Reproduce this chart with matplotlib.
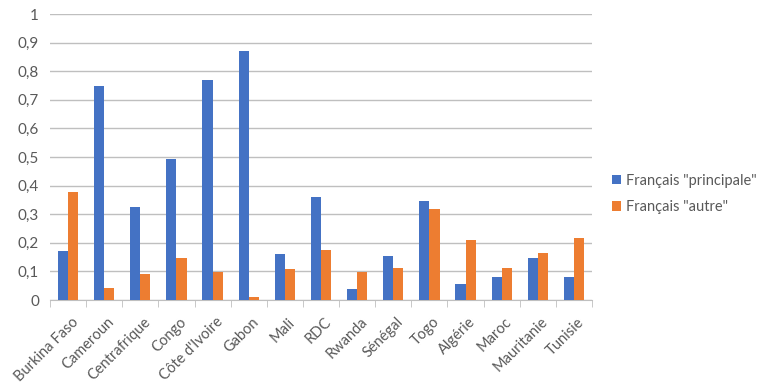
import matplotlib
matplotlib.use("Agg")
import matplotlib.pyplot as plt
import matplotlib.transforms as mtransforms
import numpy as np

categories = ["Burkina Faso", "Cameroun", "Centrafrique", "Congo", "Côte d'Ivoire",
              "Gabon", "Mali", "RDC", "Rwanda", "Sénégal", "Togo", "Algérie",
              "Maroc", "Mauritanie", "Tunisie"]
principale = [0.172, 0.748, 0.326, 0.494, 0.769, 0.870, 0.160, 0.359, 0.037,
              0.154, 0.345, 0.057, 0.080, 0.146, 0.080]
autre = [0.377, 0.043, 0.091, 0.146, 0.099, 0.011, 0.110, 0.175, 0.099,
         0.112, 0.319, 0.211, 0.112, 0.166, 0.217]
yticks = [0, 0.1, 0.2, 0.3, 0.4, 0.5, 0.6, 0.7, 0.8, 0.9, 1]
ylabels = ["0", "0,1", "0,2", "0,3", "0,4", "0,5", "0,6", "0,7", "0,8", "0,9", "1"]

plt.rcParams['font.family'] = ['Lato', 'DejaVu Sans']
txt = "#595959"
fig = plt.figure(figsize=(7.68, 3.88), dpi=100)
ax = fig.add_axes([50/768, 1-300/388, 542/768, 286/388])

x = np.arange(len(categories))
w = 0.28
ax.bar(x - w/2, principale, w, color="#4472C4", label='Français "principale"', zorder=3)
ax.bar(x + w/2, autre, w, color="#ED7D31", label='Français "autre"', zorder=3)

ax.set_xlim(-0.5, len(categories) - 0.5)
ax.set_ylim(0, 1)
ax.set_yticks(yticks)
ax.set_yticklabels(ylabels, color=txt, fontsize=11)
ax.yaxis.grid(True, color="#BFBFBF", linewidth=1, zorder=0)
ax.tick_params(axis="y", length=0, pad=8)

ax.set_xticks(x)
ax.set_xticklabels(categories, rotation=45, ha="right", rotation_mode="anchor",
                   color=txt, fontsize=10.5)
ax.tick_params(axis="x", length=0, pad=5)
offset = mtransforms.ScaledTranslation(3/100, -8/100, fig.dpi_scale_trans)
for lab in ax.get_xticklabels():
    lab.set_transform(lab.get_transform() + offset)
ax.set_xticks(np.arange(-0.5, len(categories), 1), minor=True)
ax.tick_params(axis="x", which="minor", length=5, color="#BFBFBF", direction="out")

for s in ["top", "right", "left"]:
    ax.spines[s].set_visible(False)
ax.spines["bottom"].set_color("#BFBFBF")

ax.legend(loc="center left", bbox_to_anchor=((603 - 50) / 542, (300 - 194) / 286),
          frameon=False, fontsize=10.5, labelcolor=txt, handlelength=0.6,
          handleheight=0.6, handletextpad=0.35, labelspacing=0.85, borderaxespad=0.2)

fig.savefig("out.png", dpi=100)
